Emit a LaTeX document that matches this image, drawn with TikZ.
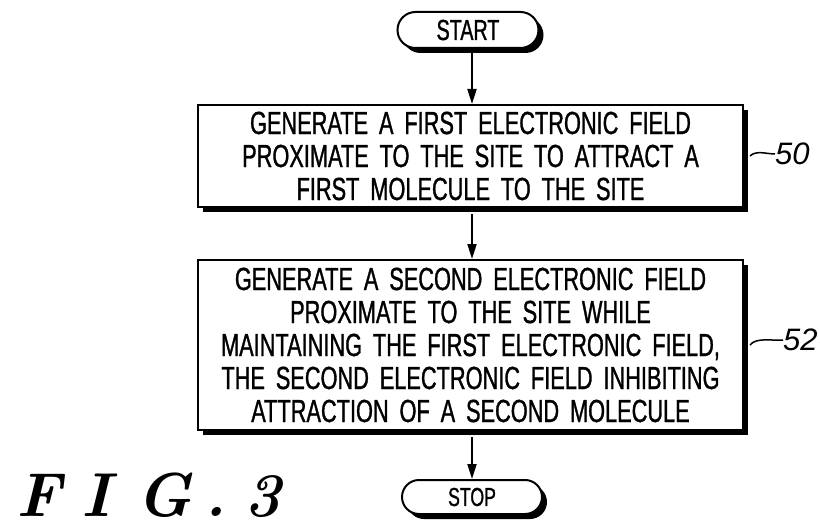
\documentclass[tikz,border=0pt]{standalone}
\usepackage{fontspec}
\usetikzlibrary{shapes.misc,shadows,arrows.meta}
\newfontfamily\boxfont{Liberation Sans}[FakeStretch=0.68,WordSpace=1.8,FakeBold=1]
\newfontfamily\labfont{Liberation Sans Italic}
\begin{document}
\begin{tikzpicture}[x=1pt,y=-1pt,
  shad/.style={drop shadow={fill=black,opacity=1,shadow xshift=5pt,shadow yshift=-5pt}},
  stepbox/.style={draw,line width=2pt,fill=white,shad,inner sep=0pt,align=center,
     font={\boxfont\fontsize{32}{33}\selectfont}},
  term/.style={rounded rectangle,draw,line width=2pt,fill=white,shad,inner sep=0pt},
  flow/.style={line width=2pt,-{Triangle[length=15pt,width=9pt]}},
  lead/.style={line width=1.5pt},
  lab/.style={font={\labfont\fontsize{31}{31}\selectfont},inner sep=0pt}]
\useasboundingbox (0,0) rectangle (820,527);
\node[term,minimum width=141pt,minimum height=36pt,font={\boxfont\fontsize{29}{29}\selectfont}] (start) at (468,30) {START};
\node[stepbox,minimum width=545pt,minimum height=102pt] (b1) at (470.5,156)
  {GENERATE A FIRST ELECTRONIC FIELD\\PROXIMATE TO THE SITE TO ATTRACT A\\FIRST MOLECULE TO THE SITE};
\node[stepbox,minimum width=545pt,minimum height=170pt] (b2) at (470.5,345)
  {GENERATE A SECOND ELECTRONIC FIELD\\PROXIMATE TO THE SITE WHILE\\MAINTAINING THE FIRST ELECTRONIC FIELD,\\THE SECOND ELECTRONIC FIELD INHIBITING\\ATTRACTION OF A SECOND MOLECULE};
\node[term,minimum width=140pt,minimum height=34pt,font={\boxfont\fontsize{26}{26}\selectfont}] (stop) at (472,497) {STOP};
\draw[flow] (start.south -| 472,0) -- (b1.north -| 472,0);
\draw[flow] (b1.south -| 472,0) ++(0,6) -- (b2.north -| 472,0);
\draw[flow] (b2.south -| 472,0) ++(0,6) -- (stop.north -| 472,0);
\node[lab,anchor=west] (l50) at (775,154) {50};
\node[lab,anchor=west] (l52) at (783,340) {52};
\draw[lead] (b1.east) ++(6,0) .. controls +(6,-6) and +(-8,0) .. (l50.west);
\draw[lead] (b2.east) ++(6,0) .. controls +(6,-8) and +(-10,1) .. (l52.west);
\node[anchor=base west,inner sep=0pt,font={\fontsize{62}{62}\selectfont\bfseries\itshape}] (fig) at (16,516)
  {F\hspace{20pt}I\hspace{26pt}G\hspace{13pt}.\hspace{17pt}3};
\end{tikzpicture}
\end{document}
